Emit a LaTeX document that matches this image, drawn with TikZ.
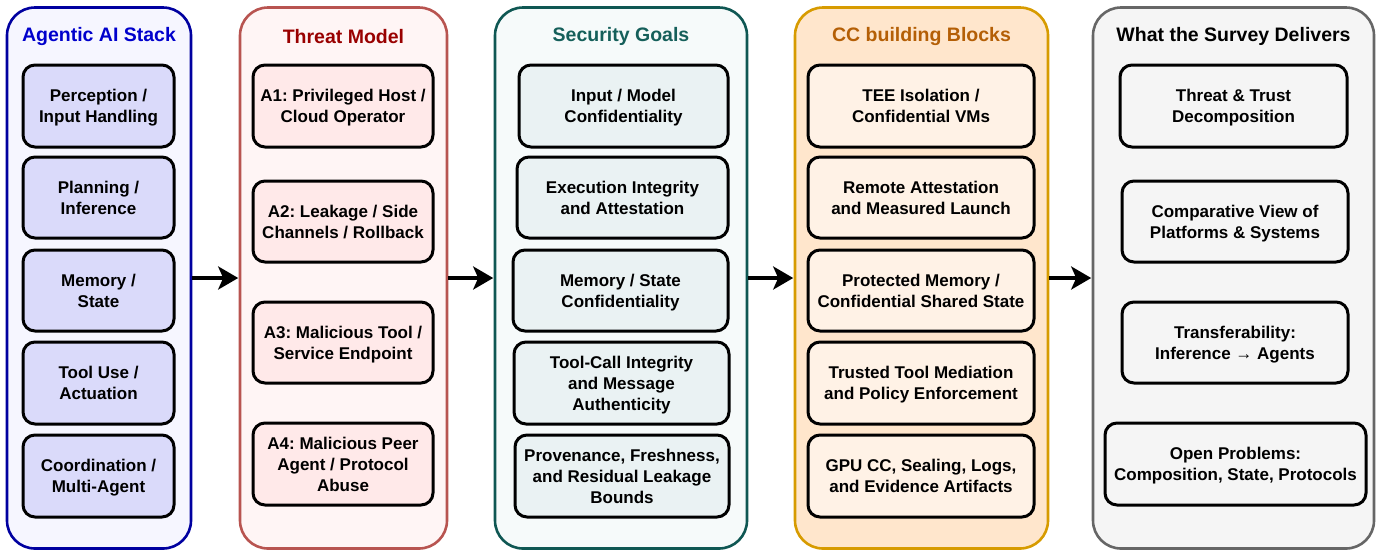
\documentclass[tikz,border=0pt]{standalone}
\usepackage{fontspec}
\setmainfont{Liberation Sans}
\frenchspacing
\usepackage{tikz}
\usetikzlibrary{arrows.meta}

\definecolor{stackline}{HTML}{0000A0}
\definecolor{stackfill}{HTML}{F6F6FF}
\definecolor{stackbox}{HTML}{DADAFA}
\definecolor{stacktext}{HTML}{0000CC}
\definecolor{threatline}{HTML}{B85450}
\definecolor{threatfill}{HTML}{FFF5F5}
\definecolor{threatbox}{HTML}{FFE9E9}
\definecolor{threattext}{HTML}{990000}
\definecolor{goalline}{HTML}{0F5753}
\definecolor{goalfill}{HTML}{F6FAFA}
\definecolor{goalbox}{HTML}{EAF2F3}
\definecolor{goaltext}{HTML}{155F5A}
\definecolor{ccline}{HTML}{D79B00}
\definecolor{ccfill}{HTML}{FFE6CC}
\definecolor{ccbox}{HTML}{FFF2E6}
\definecolor{cctext}{HTML}{B45F06}
\definecolor{survline}{HTML}{666666}
\definecolor{survfill}{HTML}{F5F5F5}

\begin{document}
\begin{tikzpicture}[x=1pt,y=-1pt,
    column/.style={draw, line width=2.6pt, rounded corners=28pt, minimum height=541pt, inner sep=0pt},
    heading/.style={font=\fontsize{19.5}{23}\selectfont\bfseries, inner sep=0pt},
    item/.style={draw=black, line width=3pt, rounded corners=12pt, align=center, inner sep=0pt,
        font=\fontsize{17}{21}\selectfont\bfseries, text depth=-2pt},
    flow/.style={-{Stealth[length=20pt,width=23pt,inset=5pt]}, line width=3.6pt, shorten >=0.5pt}]
    \useasboundingbox (0,0) rectangle (1380,550);
    \node[column, draw=stackline, fill=stackfill, minimum width=184pt] (stack) at (99,278) {};
    \node[column, draw=threatline, fill=threatfill, minimum width=207pt] (threat) at (343.5,278) {};
    \node[column, draw=goalline, fill=goalfill, minimum width=252pt] (goals) at (621,278) {};
    \node[column, draw=ccline, fill=ccfill, minimum width=253pt] (blocks) at (921.5,278) {};
    \node[column, draw=survline, fill=survfill, minimum width=281pt] (survey) at (1233.5,278) {};
    \node[heading, text=stacktext] (stackhd) at (99,36.5) {Agentic AI Stack};
    \node[heading, text=threattext] (threathd) at (343.5,36.5) {Threat Model};
    \node[heading, text=goaltext] (goalshd) at (621,36.5) {Security Goals};
    \node[heading, text=cctext] (blockshd) at (921.5,36.5) {CC building Blocks};
    \node[heading, text=black] (surveyhd) at (1233.5,36.5) {What the Survey Delivers};
    \node[item, fill=stackbox, minimum width=151pt, minimum height=82pt] (s1) at (98.5,106) {Perception /\\Input Handling};
    \node[item, fill=stackbox, minimum width=151pt, minimum height=81pt] (s2) at (98.5,197.5) {Planning /\\Inference};
    \node[item, fill=stackbox, minimum width=151pt, minimum height=81pt] (s3) at (98.5,290.5) {Memory /\\State};
    \node[item, fill=stackbox, minimum width=151pt, minimum height=82pt] (s4) at (98.5,383) {Tool Use /\\Actuation};
    \node[item, fill=stackbox, minimum width=151pt, minimum height=82pt] (s5) at (98.5,476) {Coordination /\\Multi-Agent};
    \node[item, fill=threatbox, minimum width=180pt, minimum height=82pt] (t1) at (343,106) {A1: Privileged Host /\\Cloud Operator};
    \node[item, fill=threatbox, minimum width=180pt, minimum height=81pt] (t2) at (343,221.5) {A2: Leakage / Side\\Channels / Rollback};
    \node[item, fill=threatbox, minimum width=180pt, minimum height=81pt] (t3) at (343,342.5) {A3: Malicious Tool /\\Service Endpoint};
    \node[item, fill=threatbox, minimum width=180pt, minimum height=82pt] (t4) at (343,464) {A4: Malicious Peer\\Agent / Protocol\\Abuse};
    \node[item, fill=goalbox, minimum width=209pt, minimum height=82pt] (g1) at (623.5,106) {Input / Model\\Confidentiality};
    \node[item, fill=goalbox, minimum width=211pt, minimum height=81pt] (g2) at (622.5,197.5) {Execution Integrity\\and Attestation};
    \node[item, fill=goalbox, minimum width=215pt, minimum height=81pt] (g3) at (620.5,290.5) {Memory / State\\Confidentiality};
    \node[item, fill=goalbox, minimum width=215pt, minimum height=82pt] (g4) at (621.5,383) {Tool-Call Integrity\\and Message\\Authenticity};
    \node[item, fill=goalbox, minimum width=214pt, minimum height=82pt] (g5) at (622,476) {Provenance, Freshness,\\and Residual Leakage\\Bounds};
    \node[item, fill=ccbox, minimum width=226pt, minimum height=82pt] (c1) at (921,106) {TEE Isolation /\\Confidential VMs};
    \node[item, fill=ccbox, minimum width=226pt, minimum height=81pt] (c2) at (921,197.5) {Remote Attestation\\and Measured Launch};
    \node[item, fill=ccbox, minimum width=226pt, minimum height=81pt] (c3) at (921,290.5) {Protected Memory /\\Confidential Shared State};
    \node[item, fill=ccbox, minimum width=226pt, minimum height=82pt] (c4) at (921,383) {Trusted Tool Mediation\\and Policy Enforcement};
    \node[item, fill=ccbox, minimum width=226pt, minimum height=82pt] (c5) at (921,476) {GPU CC, Sealing, Logs,\\and Evidence Artifacts};
    \node[item, fill=survfill, minimum width=227pt, minimum height=82pt] (d1) at (1233.5,106) {Threat \& Trust\\Decomposition};
    \node[item, fill=survfill, minimum width=226pt, minimum height=81pt] (d2) at (1235,221.5) {Comparative View of\\Platforms \& Systems};
    \node[item, fill=survfill, minimum width=226pt, minimum height=81pt] (d3) at (1235,342.5) {Transferability:\\Inference → Agents};
    \node[item, fill=survfill, minimum width=261pt, minimum height=82pt] (d4) at (1235.5,464) {Open Problems:\\Composition, State, Protocols};
    \draw[flow] (stack) -- (threat);
    \draw[flow] (threat) -- (goals);
    \draw[flow] (goals) -- (blocks);
    \draw[flow] (blocks) -- (survey);
\end{tikzpicture}
\end{document}
